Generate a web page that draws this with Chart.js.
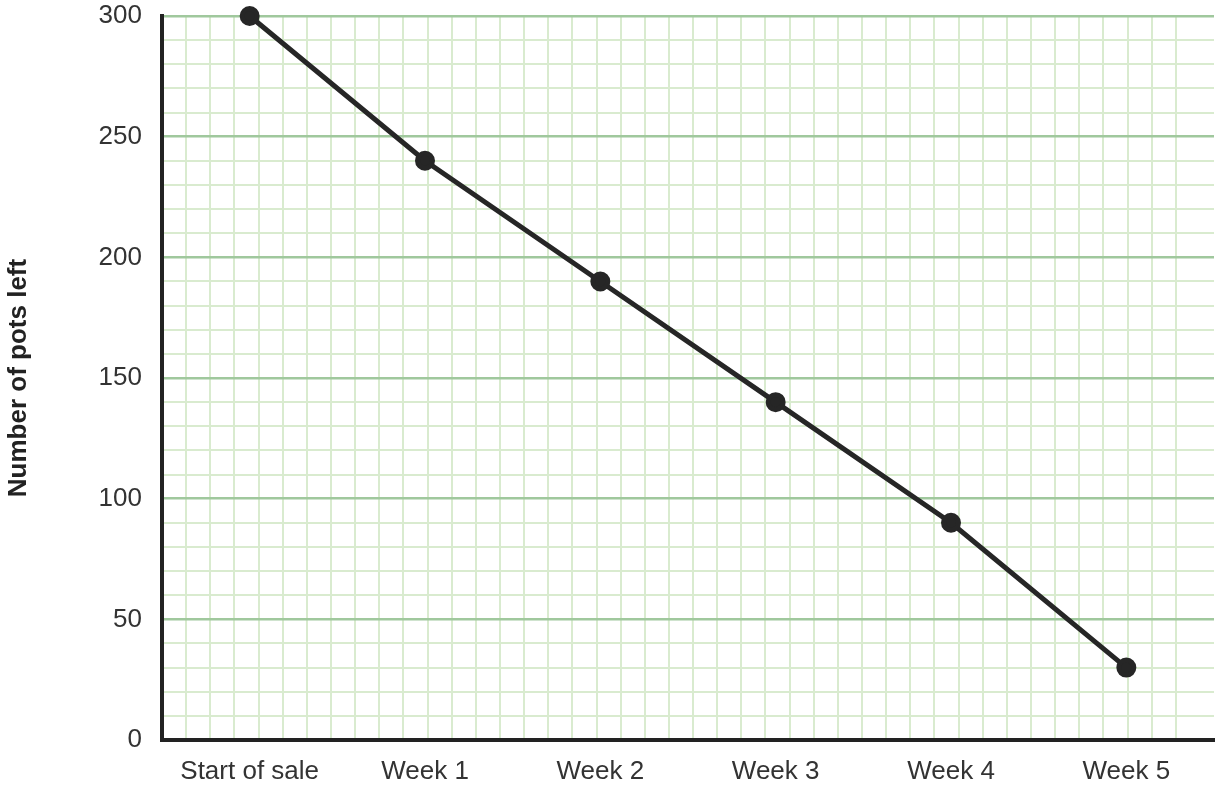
<!DOCTYPE html>
<html>
<head>
<meta charset="utf-8">
<script src="https://cdn.jsdelivr.net/npm/chart.js@4.4.0/dist/chart.umd.min.js"></script>
<style>
    html, body { margin: 0; padding: 0; background: #ffffff; }
    #wrap { width: 1220px; height: 786px; }
</style>
</head>
<body>
<div id="wrap"><canvas id="potsChart" width="1220" height="786"></canvas></div>
<script>
    'use strict';

    // data
    var categories = ['Start of sale', 'Week 1', 'Week 2', 'Week 3', 'Week 4', 'Week 5'];
    var potsLeft = [300, 240, 190, 140, 90, 30];
    var yTicks = [0, 50, 100, 150, 200, 250, 300];

    var colors = {
        line       : "#262626",
        axis       : "#222222",
        text       : "#333333",
        majorGrid  : "#a0c89d",
        minorGrid  : "#d9ebcf"
    }

    var fontFamily = "'Liberation Sans', Arial, Helvetica, sans-serif"

    // one square of graph paper = 10 pots, so the vertical lines use the same spacing
    var squares = 43.58;

    new Chart(document.getElementById('potsChart'), {
        type: 'line',
        data: {
            labels: categories,
            datasets: [{
                data: potsLeft,
                label: 'Number of pots left',
                borderColor: colors.line,
                backgroundColor: colors.line,
                borderWidth: 5,
                pointRadius: 7.5,
                pointBackgroundColor: colors.line,
                pointBorderColor: colors.line,
                tension: 0,
                fill: false,
                clip: false
            }]
        },
        options: {
            responsive: false,
            animation: false,
            layout: {
                autoPadding: false,
                padding: { top: 16, right: 6, left: 0, bottom: 0 }
            },
            plugins: {
                legend: { display: false },
                tooltip: { enabled: false }
            },
            scales: {
                x: {
                    type: 'category',
                    offset: true,
                    grid: { display: false, drawTicks: false },
                    border: { display: true, color: colors.axis, width: 4 },
                    ticks: {
                        color: colors.text,
                        padding: 16,
                        font: { size: 26, family: fontFamily }
                    },
                    afterFit: function(scale) {
                        scale.height = 46;
                        scale.paddingLeft = 0;
                        scale.paddingRight = 0;
                    }
                },
                xg: {
                    type: 'linear',
                    position: 'bottom',
                    min: 0,
                    max: squares,
                    ticks: { display: false, stepSize: 1 },
                    border: { display: false },
                    grid: {
                        drawTicks: false,
                        lineWidth: 2,
                        color: function(ctx) {
                            return Number.isInteger(ctx.tick.value) && ctx.tick.value > 0 ? colors.minorGrid : 'transparent';
                        }
                    },
                    afterFit: function(scale) {
                        scale.height = 0;
                        scale.paddingLeft = 0;
                        scale.paddingRight = 0;
                    }
                },
                y: {
                    min: 0,
                    max: 300,
                    grid: {
                        drawTicks: false,
                        lineWidth: function(ctx) {
                            return ctx.tick.value % 50 === 0 ? 2.5 : 2;
                        },
                        color: function(ctx) {
                            return ctx.tick.value % 50 === 0 ? colors.majorGrid : colors.minorGrid;
                        }
                    },
                    border: { display: true, color: colors.axis, width: 4 },
                    ticks: {
                        stepSize: 10,
                        autoSkip: false,
                        color: colors.text,
                        padding: 20,
                        font: { size: 26, family: fontFamily },
                        callback: function(value) {
                            return yTicks.indexOf(value) >= 0 ? value : '';
                        }
                    },
                    title: {
                        display: true,
                        text: 'Number of pots left',
                        color: '#222222',
                        padding: { top: 3, bottom: 0 },
                        font: { size: 26, weight: 'bold', family: fontFamily }
                    },
                    afterFit: function(scale) {
                        scale.width = 162;
                        scale.paddingTop = 0;
                        scale.paddingBottom = 0;
                    }
                }
            }
        }
    });
</script>
</body>
</html>
